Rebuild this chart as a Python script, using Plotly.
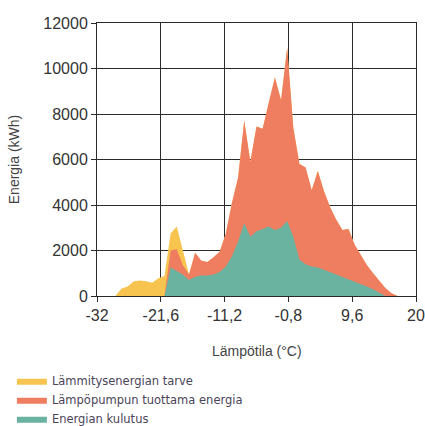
import plotly.graph_objects as go

# Outdoor temperature bins (°C)
temperature = list(range(-29, 18))

# Heating energy demand (kWh)
demand = [0, 330, 420, 650, 680, 650, 580, 780, 880, 2750, 3050, 1950, 950,
          1900, 1550, 1500, 1700, 1950, 2750, 4100, 5200, 7700, 5900, 7450,
          7350, 8500, 9600, 8600, 10900, 7400, 5800, 5650, 4650, 5500, 4600,
          3900, 3350, 2900, 2950, 2250, 1800, 1350, 1000, 650, 350, 120, 0]

# Energy produced by the heat pump (kWh)
heatpump = [0, 0, 0, 0, 0, 0, 0, 0, 0, 2000, 2050, 1350, 950,
            1900, 1550, 1500, 1700, 1950, 2750, 4100, 5200, 7700, 5900, 7450,
            7350, 8500, 9600, 8600, 10900, 7400, 5800, 5650, 4650, 5500, 4600,
            3900, 3350, 2900, 2950, 2250, 1800, 1350, 1000, 650, 350, 120, 0]

# Energy consumption (kWh)
consumption = [0, 0, 0, 0, 0, 0, 0, 0, 0, 1250, 1100, 950, 700,
               850, 900, 900, 950, 1050, 1300, 1750, 2400, 3200, 2600, 2850,
               2950, 3050, 2900, 3000, 3300, 2600, 1600, 1400, 1300, 1250, 1150,
               1050, 950, 850, 750, 650, 520, 420, 300, 150, 0, 0, 0]

series_names = ["Lämmitysenergian tarve", "Lämpöpumpun tuottama energia", "Energian kulutus"]
series_colors = ["#F7C450", "#EF7D60", "#6AB3A1"]

x_tick_vals = [-32, -21.6, -11.2, -0.8, 9.6, 20]
x_tick_text = ["-32", "-21,6", "-11,2", "-0,8", "9,6", "20"]
y_tick_vals = [0, 2000, 4000, 6000, 8000, 10000, 12000]
y_tick_text = ["0", "2000", "4000", "6000", "8000", "10000", "12000"]

x_title = "Lämpötila (°C)"
y_title = "Energia (kWh)"

FONT = "Liberation Sans, Arial, sans-serif"
LEGEND_FONT = "DejaVu Sans, Verdana, sans-serif"

fig = go.Figure()
for name, values, color in zip(series_names, [demand, heatpump, consumption], series_colors):
    fig.add_trace(go.Scatter(
        x=temperature, y=values, name=name, mode="lines",
        fill="tozeroy", fillcolor=color,
        line=dict(width=0, color=color),
    ))

axis_common = dict(
    showgrid=True, gridcolor="#2b2b2b", gridwidth=1,
    showline=True, linecolor="#2b2b2b", linewidth=1, mirror=True,
    ticks="outside", ticklen=5, tickcolor="#2b2b2b",
    zeroline=False, automargin=False, tickangle=0,
    tickfont=dict(family=FONT, size=16, color="#333333"),
)

fig.update_xaxes(range=[-32, 20], tickvals=x_tick_vals, ticktext=x_tick_text, **axis_common)
fig.update_yaxes(range=[0, 12000], tickvals=y_tick_vals, ticktext=y_tick_text, **axis_common)

# Axis titles placed as annotations for precise positioning
title_font = dict(family=FONT, size=14, color="#444444")
fig.add_annotation(text=x_title, xref="paper", yref="paper", x=0.5, y=-0.2,
                   yanchor="middle", xanchor="center", showarrow=False, font=title_font)
fig.add_annotation(text=y_title, xref="paper", yref="paper", x=-0.261, y=0.5,
                   xanchor="center", yanchor="middle", textangle=-90, showarrow=False,
                   font=title_font)

fig.update_layout(
    width=425, height=426,
    margin=dict(l=97, r=9, t=23, b=130, autoexpand=False),
    paper_bgcolor="white", plot_bgcolor="white",
    showlegend=True,
    legend=dict(
        xref="container", yref="container", x=0.028, y=0.14,
        xanchor="left", yanchor="top",
        font=dict(family=LEGEND_FONT, size=11.5, color="#4a4457"),
        bgcolor="rgba(0,0,0,0)", tracegroupgap=0, itemsizing="constant",
    ),
)

fig.write_html("out.html")
